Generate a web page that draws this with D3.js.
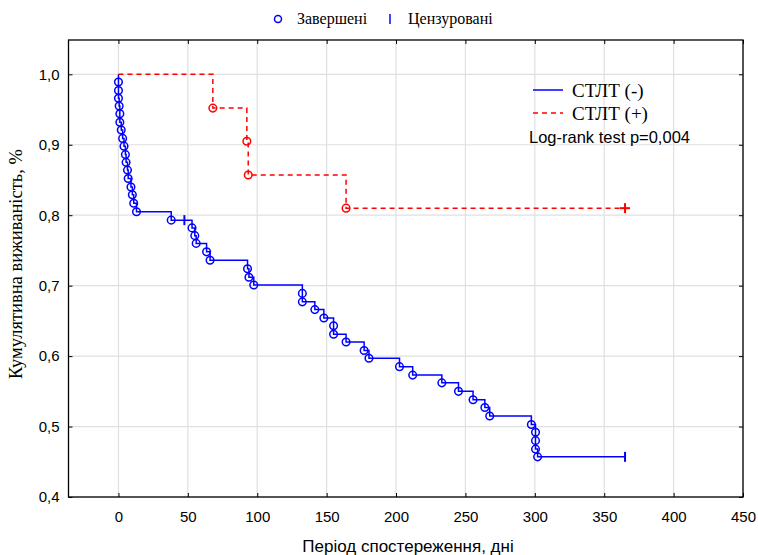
<!DOCTYPE html>
<html>
<head>
<meta charset="utf-8">
<script src="https://cdnjs.cloudflare.com/ajax/libs/d3/7.8.5/d3.min.js"></script>
<style>
  body { margin: 0; background: #fff; }
  .tick text { font-family: "Liberation Sans", Arial, sans-serif; font-size: 15px; fill: #000; }
</style>
</head>
<body>
<div id="chart"></div>
<script>
// Chart values
// СТЛТ (-): [day, cumulative survival, kind]  kind: "s" = start, "e" = event, "c" = censored
var negTime = [0, 0, 0, 0, 0.5, 1, 1, 2, 3, 4, 5, 5.5, 6.5, 7, 9, 10, 11, 13,
  38, 47.5, 53, 55, 56, 63.5, 66, 93, 94, 97.5, 132.5, 132.5, 141.5, 148, 155, 155,
  164, 177, 180.5, 202.5, 212, 233, 245, 255.5, 264, 267.5, 297.5, 300.5, 300.5, 300.5, 302, 365];
var negSurv = [1.0, 0.989, 0.977, 0.966, 0.955, 0.944, 0.932, 0.921, 0.909, 0.898, 0.886, 0.875, 0.864, 0.852, 0.840, 0.829, 0.817, 0.805,
  0.793, 0.793, 0.782, 0.771, 0.760, 0.748, 0.736, 0.724, 0.712, 0.701, 0.689, 0.677, 0.666, 0.654, 0.643, 0.631,
  0.620, 0.608, 0.597, 0.585, 0.573, 0.562, 0.550, 0.538, 0.527, 0.515, 0.503, 0.492, 0.480, 0.468, 0.457, 0.457];
var negKind = ["s", "e", "e", "e", "e", "e", "e", "e", "e", "e", "e", "e", "e", "e", "e", "e", "e", "e",
  "e", "c", "e", "e", "e", "e", "e", "e", "e", "e", "e", "e", "e", "e", "e", "e",
  "e", "e", "e", "e", "e", "e", "e", "e", "e", "e", "e", "e", "e", "e", "e", "c"];

// СТЛТ (+)
var posTime = [0, 68, 92.5, 93.5, 164, 365];
var posSurv = [1.0, 0.952, 0.905, 0.857, 0.810, 0.810];
var posKind = ["s", "e", "e", "e", "e", "c"];

var xTicks = [0, 50, 100, 150, 200, 250, 300, 350, 400, 450];
var yTicks = [0.4, 0.5, 0.6, 0.7, 0.8, 0.9, 1.0];

var width = 758, height = 555;
var margin = {left: 68.5, right: 15, top: 40, bottom: 58};

var svg = d3.select("#chart").append("svg")
  .attr("width", width)
  .attr("height", height);

var x = d3.scaleLinear().domain([-36, 450]).range([margin.left, width - margin.right]);
var y = d3.scaleLinear().domain([0.4, 1.0487]).range([height - margin.bottom, margin.top]);

var fmt = function(d) { return d3.format(".1f")(d).replace(".", ","); };

// gridlines
svg.append("g")
  .selectAll("line.gx")
  .data(xTicks)
  .enter().append("line")
  .attr("x1", function(d) { return x(d); }).attr("x2", function(d) { return x(d); })
  .attr("y1", y.range()[1]).attr("y2", y.range()[0])
  .attr("stroke", "#e0e0e0").attr("stroke-width", 1.2);
svg.append("g")
  .selectAll("line.gy")
  .data(yTicks)
  .enter().append("line")
  .attr("x1", x.range()[0]).attr("x2", x.range()[1])
  .attr("y1", function(d) { return y(d); }).attr("y2", function(d) { return y(d); })
  .attr("stroke", "#e0e0e0").attr("stroke-width", 1.2);

// axes, ticks inside the frame
svg.append("g")
  .attr("transform", "translate(0," + y.range()[0] + ")")
  .call(d3.axisBottom(x).tickValues(xTicks).tickSize(-4).tickPadding(14).tickSizeOuter(0))
  .call(function(g) { g.select(".domain").remove(); });
svg.append("g")
  .attr("transform", "translate(" + x.range()[0] + ",0)")
  .call(d3.axisLeft(y).tickValues(yTicks).tickFormat(fmt).tickSize(-4).tickPadding(9).tickSizeOuter(0))
  .call(function(g) { g.select(".domain").remove(); });
svg.append("g")
  .attr("transform", "translate(" + x.range()[1] + ",0)")
  .call(d3.axisRight(y).tickValues(yTicks).tickFormat("").tickSize(-4).tickSizeOuter(0))
  .call(function(g) { g.select(".domain").remove(); });
svg.append("g")
  .attr("transform", "translate(0," + y.range()[1] + ")")
  .call(d3.axisTop(x).tickValues(xTicks).tickFormat("").tickSize(-4).tickSizeOuter(0))
  .call(function(g) { g.select(".domain").remove(); });

// frame
svg.append("rect")
  .attr("x", x.range()[0]).attr("y", y.range()[1])
  .attr("width", x.range()[1] - x.range()[0])
  .attr("height", y.range()[0] - y.range()[1])
  .attr("fill", "none").attr("stroke", "#000").attr("stroke-width", 1.3);

var line = d3.line()
  .x(function(d) { return x(d.t); })
  .y(function(d) { return y(d.s); })
  .curve(d3.curveStepAfter);

function series(time, surv, kind, color, dash, cross) {
  var data = time.map(function(t, i) { return {t: t, s: surv[i], k: kind[i]}; });
  var g = svg.append("g");
  g.append("path")
    .datum(data)
    .attr("d", line)
    .attr("fill", "none")
    .attr("stroke", color)
    .attr("stroke-width", 1.5)
    .attr("stroke-dasharray", dash);
  g.selectAll("circle")
    .data(data.filter(function(d) { return d.k == "e"; }))
    .enter().append("circle")
    .attr("cx", function(d) { return x(d.t); })
    .attr("cy", function(d) { return y(d.s); })
    .attr("r", 3.8)
    .attr("fill", "none")
    .attr("stroke", color)
    .attr("stroke-width", 1.5);
  var cens = g.selectAll("g.cens")
    .data(data.filter(function(d) { return d.k == "c"; }))
    .enter().append("g")
    .attr("transform", function(d) { return "translate(" + x(d.t) + "," + y(d.s) + ")"; });
  cens.append("line")
    .attr("x1", 0).attr("x2", 0).attr("y1", -5).attr("y2", 5)
    .attr("stroke", color).attr("stroke-width", 2);
  if (cross) {
    cens.append("line")
      .attr("x1", -5).attr("x2", 5).attr("y1", 0).attr("y2", 0)
      .attr("stroke", color).attr("stroke-width", 2);
  }
}

series(negTime, negSurv, negKind, "#0000ff", null, false);
series(posTime, posSurv, posKind, "#ff0000", "5,4", true);

// top legend
svg.append("circle").attr("cx", 278).attr("cy", 19).attr("r", 3.5)
  .attr("fill", "none").attr("stroke", "#0000ff").attr("stroke-width", 1.5);
svg.append("text").attr("x", 297).attr("y", 24)
  .style("font-family", "Liberation Serif, Times New Roman, serif").style("font-size", "16px")
  .text("Завершені");
svg.append("line").attr("x1", 390).attr("x2", 390).attr("y1", 14).attr("y2", 24)
  .attr("stroke", "#0000ff").attr("stroke-width", 1.5);
svg.append("text").attr("x", 408).attr("y", 24)
  .style("font-family", "Liberation Serif, Times New Roman, serif").style("font-size", "16px")
  .text("Цензуровані");

// inner legend
svg.append("line").attr("x1", 533).attr("x2", 563).attr("y1", 90).attr("y2", 90)
  .attr("stroke", "#0000ff").attr("stroke-width", 1.5);
svg.append("text").attr("x", 572).attr("y", 97)
  .style("font-family", "Liberation Serif, Times New Roman, serif").style("font-size", "19px")
  .text("СТЛТ (-)");
svg.append("line").attr("x1", 533).attr("x2", 563).attr("y1", 113).attr("y2", 113)
  .attr("stroke", "#ff0000").attr("stroke-width", 1.5).attr("stroke-dasharray", "5,4");
svg.append("text").attr("x", 572).attr("y", 120)
  .style("font-family", "Liberation Serif, Times New Roman, serif").style("font-size", "19px")
  .text("СТЛТ (+)");
svg.append("text").attr("x", 529).attr("y", 143)
  .style("font-family", "Liberation Sans, Arial, sans-serif").style("font-size", "16.5px")
  .text("Log-rank test p=0,004");

// axis titles
svg.append("text")
  .attr("transform", "translate(22,264) rotate(-90)")
  .attr("text-anchor", "middle")
  .style("font-family", "Liberation Serif, Times New Roman, serif").style("font-size", "18.5px")
  .text("Кумулятивна виживаність, %");
svg.append("text")
  .attr("x", 408).attr("y", 552)
  .attr("text-anchor", "middle")
  .style("font-family", "Liberation Sans, Arial, sans-serif").style("font-size", "17px")
  .text("Період спостереження, дні");
</script>
</body>
</html>
